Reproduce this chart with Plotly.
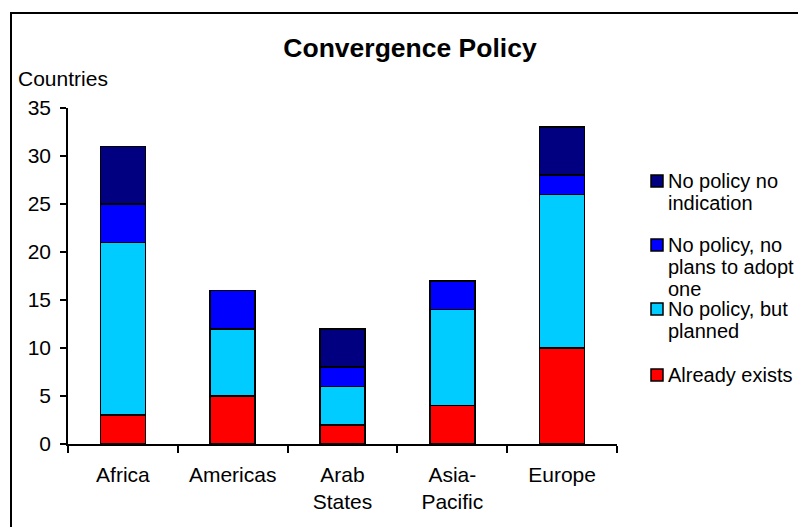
import plotly.graph_objects as go

regions = ["Africa", "Americas", "Arab<br>States", "Asia-<br>Pacific", "Europe"]
already_exists = [3, 5, 2, 4, 10]
planned = [18, 7, 4, 10, 16]
no_plans = [4, 4, 2, 3, 2]
no_indication = [6, 0, 4, 0, 5]

series_names = ["Already exists", "No policy, but<br>planned",
                "No policy, no<br>plans to adopt<br>one", "No policy no<br>indication"]
series_values = [already_exists, planned, no_plans, no_indication]
colors = ["#FF0000", "#00CCFF", "#0000FF", "#000080"]

FONT = "Liberation Sans, Arial"
W, H = 806, 527
OFF = 8  # page body margin offset
# target plot area in screenshot pixels
PX_L, PX_R, PX_T, PX_B = 68, 617, 108, 444
L, T = PX_L - OFF, PX_T - OFF
R, B = W - (PX_R - OFF), H - (PX_B - OFF)
pw, ph = W - L - R, H - T - B


def px(x):
    return (x - PX_L) / pw


def py(y):
    return (PX_B - y) / ph


fig = go.Figure()
for name, vals, col in zip(series_names, series_values, colors):
    fig.add_trace(go.Bar(x=regions, y=vals, name=name.replace("<br>", " "),
                         marker=dict(color=col, line=dict(color="black", width=1.6)),
                         showlegend=False))

fig.update_layout(
    width=W, height=H,
    barmode="stack", bargap=0.59,
    paper_bgcolor="white", plot_bgcolor="white",
    margin=dict(l=L, r=R, t=T, b=B, pad=0),
    font=dict(family=FONT, size=21, color="black"),
    title=dict(text="<b>Convergence Policy</b>", x=(410 - OFF) / W, xanchor="center",
               y=1 - (48 - OFF) / H, yanchor="middle", font=dict(size=26.5)),
    xaxis=dict(showline=True, linecolor="black", linewidth=1.6, ticks="outside",
               tickson="boundaries", ticklen=7, tickcolor="black", tickwidth=1.6,
               showgrid=False, fixedrange=True, ticklabelstandoff=11),
    yaxis=dict(range=[0, 35], dtick=5, showline=True, linecolor="black", linewidth=1.6,
               ticks="outside", ticklen=6, tickcolor="black", tickwidth=1.6,
               showgrid=False, zeroline=False, fixedrange=True, ticklabelstandoff=5),
    showlegend=False,
)

fig.add_annotation(text="Countries", xref="paper", yref="paper",
                   x=px(16), y=py(78), xanchor="left", yanchor="middle",
                   showarrow=False, font=dict(size=21))

# Legend (Excel style: evenly spaced entries, reversed order)
entry_tops = [181, 245, 309, 375]
line_step = 22
for i, (name, col) in enumerate(zip(series_names[::-1], colors[::-1])):
    y0 = entry_tops[i]
    fig.add_shape(type="rect", xref="paper", yref="paper",
                  x0=px(651), x1=px(663), y0=py(y0 - 6), y1=py(y0 + 6),
                  line=dict(color="black", width=1.5), fillcolor=col)
    for j, line in enumerate(name.split("<br>")):
        fig.add_annotation(text=line, xref="paper", yref="paper",
                           x=px(666), y=py(y0 + j * line_step), xanchor="left",
                           yanchor="middle", showarrow=False, font=dict(size=20))

fig.add_shape(type="rect", xref="paper", yref="paper",
              x0=px(11), x1=px(850), y0=py(580), y1=py(13),
              line=dict(color="black", width=2), fillcolor="rgba(0,0,0,0)", layer="below")

fig.write_html("out.html")
